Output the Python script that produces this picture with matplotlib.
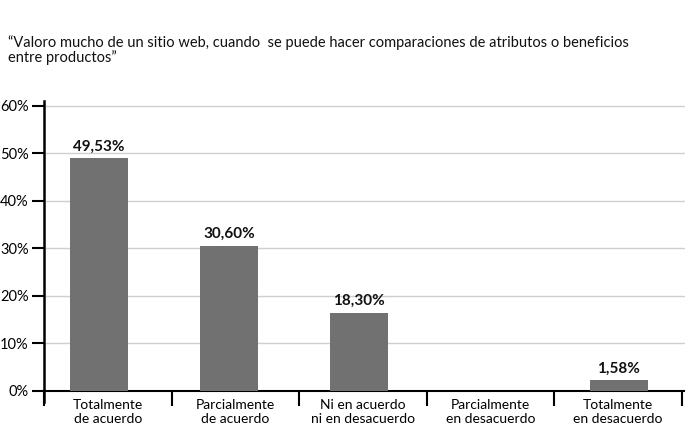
import numpy as np
import matplotlib.pyplot as plt

# data
categories = ["Totalmente\nde acuerdo", "Parcialmente\nde acuerdo",
              "Ni en acuerdo\nni en desacuerdo", "Parcialmente\nen desacuerdo",
              "Totalmente\nen desacuerdo"]
bar_heights = [49.0, 30.6, 16.5, 0.0, 2.3]
value_labels = ["49,53%", "30,60%", "18,30%", "", "1,58%"]
y_ticks = [0, 10, 20, 30, 40, 50, 60]
title = ("\u201cValoro mucho de un sitio web, cuando  se puede hacer comparaciones de atributos o beneficios\n"
         "entre productos\u201d")

plt.rcParams['font.family'] = ['Lato', 'DejaVu Sans']

fig = plt.figure(figsize=(6.85, 4.32), dpi=100)
# axes box: y-axis at x=44px, 0% at y=391px, 60% at y=106px
ax = fig.add_axes([44 / 685, 1 - 402.4 / 432, 1 - 44 / 685, (402.4 - 101) / 432])

x = np.arange(len(categories))
ax.bar(x, bar_heights, width=0.445, color="#717171", zorder=3)

for xi, h, lab in zip(x, bar_heights, value_labels):
    if lab:
        ax.text(xi, h + 0.9, lab, ha="center", va="bottom", fontsize=11,
                fontweight="bold", color="#111111")

# category separators are spaced a bit tighter than the bars
step = 127.6 / 130
bounds = -0.423 + step * np.arange(len(categories) + 1)
centers = (bounds[:-1] + bounds[1:]) / 2

ax.set_xlim(-0.423, 4.508)
ax.set_ylim(-2.4, 61)
ax.set_yticks(y_ticks)
ax.set_yticklabels([f"{t}%" for t in y_ticks], fontsize=10.5)
ax.yaxis.grid(True, color="#cfcfcf", linewidth=1, zorder=0)

ax.set_xticks(bounds)
ax.set_xticklabels([])
ax.set_xticks(centers, minor=True)
ax.set_xticklabels(categories, minor=True, fontsize=11.8, linespacing=0.95)
ax.tick_params(axis="x", which="major", direction="out", length=11, width=1.5)
ax.tick_params(axis="x", which="minor", length=0, pad=6)
ax.tick_params(axis="y", direction="out", length=9, width=1.5, pad=2)

for s in ["top", "right"]:
    ax.spines[s].set_visible(False)
ax.spines["bottom"].set_position(("data", 0))
ax.spines["bottom"].set_linewidth(1.5)
ax.spines["left"].set_linewidth(1.8)

# hide the gridline under the axis line at 0
ax.get_ygridlines()[0].set_visible(False)

fig.text(8 / 685, 1 - 35 / 432, title, ha="left", va="top", fontsize=10.5,
         linespacing=1.05, color="#111111")

fig.savefig("out.png", dpi=100)
